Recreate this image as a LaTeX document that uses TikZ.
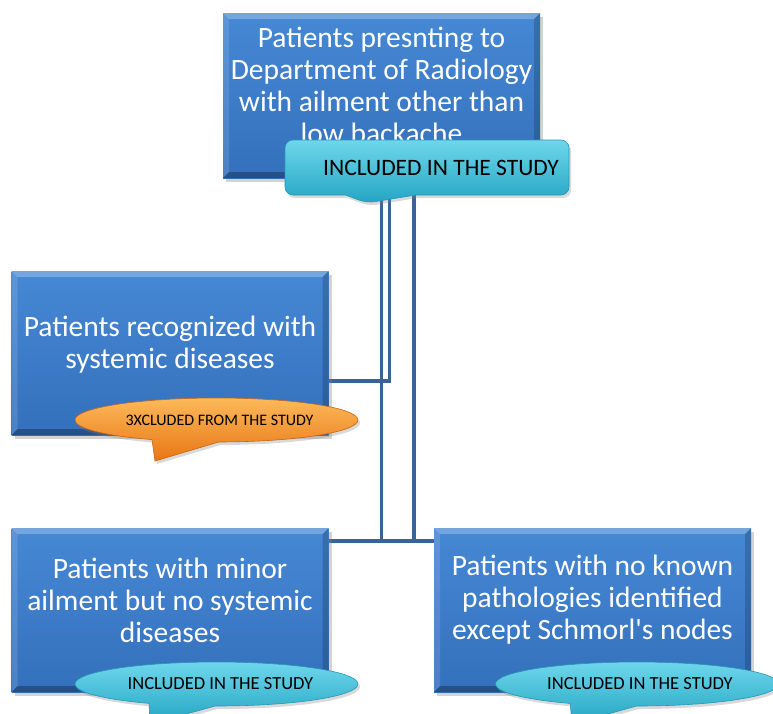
\documentclass[tikz,border=0pt]{standalone}
\usepackage{fontspec}
\setmainfont{Carlito}
\usetikzlibrary{shapes.callouts}
\usetikzlibrary{shadows}
\usetikzlibrary{backgrounds}
\usetikzlibrary{calc}

\definecolor{boxtop}{RGB}{70,136,212}
\definecolor{boxbottom}{RGB}{52,112,188}
\definecolor{linkblue}{RGB}{58,100,152}
\definecolor{tealtop}{RGB}{110,215,235}
\definecolor{tealbottom}{RGB}{35,165,195}
\definecolor{tealedge}{RGB}{40,150,180}
\definecolor{ambertop}{RGB}{252,185,90}
\definecolor{amberbottom}{RGB}{232,118,20}
\definecolor{amberedge}{RGB}{200,100,20}

\newcommand{\boxbevel}{%
  \coordinate (nw) at (path picture bounding box.north west);
  \coordinate (ne) at (path picture bounding box.north east);
  \coordinate (sw) at (path picture bounding box.south west);
  \coordinate (se) at (path picture bounding box.south east);
  \fill[white, opacity=0.25] (nw) -- (ne) -- ($(ne)+(-6pt,-6pt)$) -- ($(nw)+(6pt,-6pt)$) -- cycle;
  \fill[white, opacity=0.12] (sw) -- (nw) -- ($(nw)+(6pt,-6pt)$) -- ($(sw)+(6pt,6pt)$) -- cycle;
  \fill[black, opacity=0.18] (ne) -- (se) -- ($(se)+(-6pt,6pt)$) -- ($(ne)+(-6pt,-6pt)$) -- cycle;
  \fill[black, opacity=0.28] (se) -- (sw) -- ($(sw)+(6pt,6pt)$) -- ($(se)+(-6pt,6pt)$) -- cycle;
}

\tikzset{
  flowbox/.style={rectangle, minimum width=317pt, minimum height=164pt, inner sep=0pt,
    top color=boxtop, bottom color=boxbottom,
    drop shadow={opacity=0.35, shadow xshift=3pt, shadow yshift=-4pt},
    path picture={\boxbevel}},
  boxtext/.style={text=white, align=center, font=\fontsize{29.5}{32}\selectfont},
  link/.style={draw=linkblue, line width=3.5pt},
  tealtag/.style={draw=tealedge, line width=0.6pt, top color=tealtop, bottom color=tealbottom,
    inner sep=0pt, drop shadow={opacity=0.3, shadow xshift=2pt, shadow yshift=-3pt}},
  ambertag/.style={draw=amberedge, line width=0.6pt, top color=ambertop, bottom color=amberbottom,
    inner sep=0pt, drop shadow={opacity=0.3, shadow xshift=2pt, shadow yshift=-3pt}},
  ovaltag/.style={ellipse callout, minimum width=283pt, minimum height=44pt,
    callout pointer arc=28, font=\fontsize{18.5}{20}\selectfont}
}

\begin{document}
\begin{tikzpicture}[x=1pt,y=-1pt]
  \useasboundingbox (0,0) rectangle (773,713);

  % boxes
  \node[flowbox, minimum height=165pt,
    label={[boxtext,yshift=10pt]center:{Patients presnting to\\Department of Radiology\\with ailment other than\\low backache}}]
    (presenting) at (381.5,95.5) {};
  \node[flowbox,
    label={[boxtext,yshift=8pt]center:{Patients recognized with\\systemic diseases}}]
    (systemic) at (170,353) {};
  \node[flowbox,
    label={[boxtext,yshift=10pt]center:{Patients with minor\\ailment but no systemic\\diseases}}]
    (minor) at (170,610) {};
  \node[flowbox,
    label={[boxtext,yshift=10pt]center:{Patients with no known\\pathologies identified\\except Schmorl\textquotesingle s nodes}}]
    (schmorl) at (592.5,610) {};

  % tags
  \node[tealtag, rectangle callout, rounded corners=8pt, minimum width=284pt, minimum height=55pt,
    callout absolute pointer={(367,203)}, callout pointer width=70pt, font=\fontsize{23.5}{25}\selectfont]
    (incTop) at (427,167.5) {\hspace*{28pt}INCLUDED IN THE STUDY};
  \node[ambertag, ovaltag, callout absolute pointer={(155,461)}, font=\fontsize{16}{18}\selectfont]
    (excSystemic) at (216.5,420) {\hspace*{6pt}3XCLUDED FROM THE STUDY};
  \node[tealtag, ovaltag, callout absolute pointer={(150,724)}]
    (incMinor) at (216.5,684) {\hspace*{8pt}INCLUDED IN THE STUDY};
  \node[tealtag, ovaltag, callout absolute pointer={(572,724)}]
    (incSchmorl) at (637,684) {\hspace*{6pt}INCLUDED IN THE STUDY};

  % connectors
  \coordinate (v1) at (381.5,0);
  \coordinate (v2) at (389.5,0);
  \coordinate (v3) at (414,0);
  \coordinate (tap) at (0,381);
  \coordinate (bus) at (0,541);
  \begin{scope}[on background layer]
    \draw[link] (incTop.south -| v1) -- (v1 |- bus);
    \draw[link] (incTop.south -| v3) -- (v3 |- bus);
    \draw[link] (incTop.south -| v2) |- (systemic.east |- tap);
    \draw[link] (minor.east |- bus) -- (schmorl.west |- bus);
  \end{scope}
\end{tikzpicture}
\end{document}
